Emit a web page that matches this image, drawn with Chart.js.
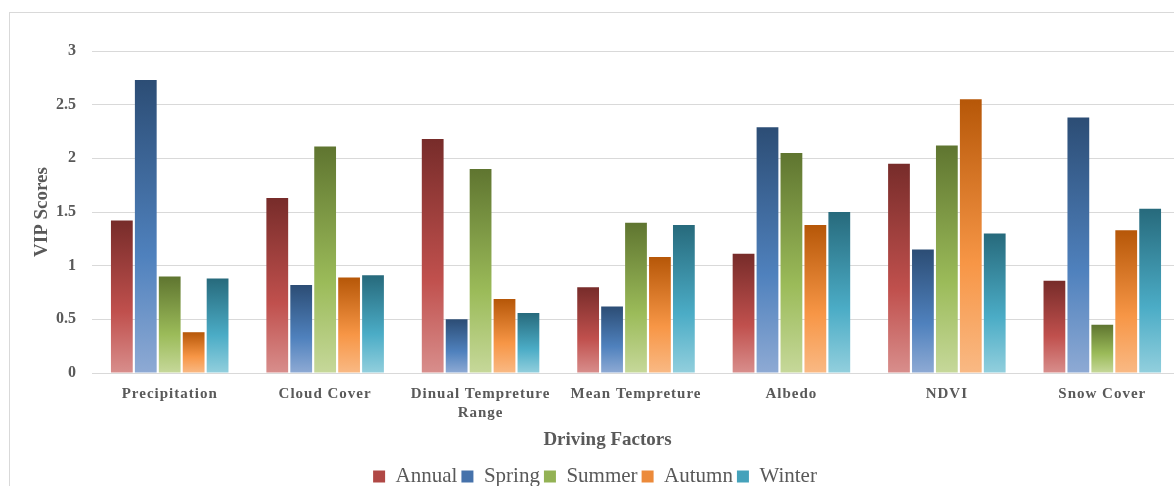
<!DOCTYPE html>
<html>
<head>
<meta charset="utf-8">
<script src="https://cdn.jsdelivr.net/npm/chart.js@4.4.0/dist/chart.umd.min.js"></script>
<style>
  html, body { margin: 0; padding: 0; background: #fff; overflow: hidden; }
  #frame { position: absolute; left: 9px; top: 12px; width: 1200px; height: 490px; border: 1px solid #d9d9d9; }
  #vip { display: block; }
</style>
</head>
<body>
<div id="frame"><canvas id="vip" width="1180" height="484"></canvas></div>
<script>
// categories and series
const factors = ["Precipitation", "Cloud Cover", ["Dinual Tempreture", "Range"], "Mean Tempreture", "Albedo", "NDVI", "Snow Cover"];
const annual = [1.42, 1.63, 2.18, 0.80, 1.11, 1.95, 0.86];
const spring = [2.73, 0.82, 0.50, 0.62, 2.29, 1.15, 2.38];
const summer = [0.90, 2.11, 1.90, 1.40, 2.05, 2.12, 0.45];
const autumn = [0.38, 0.89, 0.69, 1.08, 1.38, 2.55, 1.33];
const winter = [0.88, 0.91, 0.56, 1.38, 1.50, 1.30, 1.53];
const yTicks = [0, 0.5, 1, 1.5, 2, 2.5, 3];

const grey = "#595959";
const serif = "'Liberation Serif', 'Times New Roman', serif";
const legendColors = ["#b04845", "#4672ab", "#93b254", "#ec8a3a", "#45a2bb"];

// dark top -> mid -> light bottom, per bar
function barFill(top, mid, bottom) {
  return (ctx) => {
    if (ctx.type !== "data") return mid;
    const chart = ctx.chart;
    const y = chart.scales.y;
    if (!chart.chartArea || !y) return mid;
    const y0 = y.getPixelForValue(ctx.raw);
    const y1 = y.getPixelForValue(0);
    if (!isFinite(y0) || !isFinite(y1) || y0 === y1) return mid;
    const g = chart.ctx.createLinearGradient(0, y0, 0, y1);
    g.addColorStop(0, top);
    g.addColorStop(0.6, mid);
    g.addColorStop(1, bottom);
    return g;
  };
}

function series(label, data, top, mid, bottom) {
  return {
    label: label,
    data: data,
    backgroundColor: barFill(top, mid, bottom),
    borderWidth: 0,
    barPercentage: 0.91,
    categoryPercentage: 0.77
  };
}

// x tick labels are drawn after the bars (ticks.z = 1) with a little letter spacing
const spacedTicks = {
  id: "spacedTicks",
  afterDatasetsDraw(chart) { chart.ctx.letterSpacing = "1px"; },
  afterDraw(chart) { chart.ctx.letterSpacing = "0px"; }
};

new Chart(document.getElementById("vip"), {
  type: "bar",
  plugins: [spacedTicks],
  data: {
    labels: factors,
    datasets: [
      series("Annual", annual, "#772c2a", "#c0504d", "#d88e8c"),
      series("Spring", spring, "#2c4d75", "#4f81bd", "#8eaad4"),
      series("Summer", summer, "#5f7530", "#9bbb59", "#c6d89a"),
      series("Autumn", autumn, "#b65708", "#f79646", "#f9b984"),
      series("Winter", winter, "#276a7c", "#4bacc6", "#92cfdd")
    ]
  },
  options: {
    responsive: false,
    animation: false,
    layout: { padding: { top: 38, right: 10, left: 0, bottom: 0 } },
    plugins: {
      tooltip: { enabled: false },
      legend: {
        position: "bottom",
        labels: {
          boxWidth: 12,
          boxHeight: 12,
          padding: 4,
          color: grey,
          font: { family: serif, size: 21 },
          generateLabels: (chart) =>
            Chart.defaults.plugins.legend.labels.generateLabels(chart).map((l, i) => ({
              ...l, fillStyle: legendColors[i], strokeStyle: legendColors[i], lineWidth: 0
            }))
        }
      }
    },
    scales: {
      x: {
        grid: { display: false, drawTicks: false },
        border: { display: true, color: "#d9d9d9" },
        ticks: {
          color: grey,
          padding: 12,
          z: 1,
          maxRotation: 0,
          autoSkip: false,
          font: { family: serif, size: 15, weight: "bold", lineHeight: 1.25 }
        },
        title: {
          display: true,
          text: "Driving Factors\u00a0\u00a0\u00a0\u00a0\u00a0\u00a0\u00a0\u00a0\u00a0\u00a0\u00a0\u00a0",
          color: grey,
          padding: 11,
          font: { family: serif, size: 19, weight: "bold" }
        },
        afterFit: (s) => { s.height = 89; }
      },
      y: {
        min: 0,
        max: 3,
        grid: { color: "#d9d9d9", drawTicks: false },
        border: { display: false },
        afterBuildTicks: (s) => { s.ticks = yTicks.map(v => ({ value: v })); },
        ticks: {
          color: grey,
          padding: 16,
          callback: (v) => String(v),
          font: { family: serif, size: 16, weight: "bold" }
        },
        title: {
          display: true,
          text: "VIP Scores",
          color: grey,
          padding: 21,
          font: { family: serif, size: 19, weight: "bold" }
        },
        afterFit: (s) => { s.width = 82; }
      }
    }
  }
});
</script>
</body>
</html>
